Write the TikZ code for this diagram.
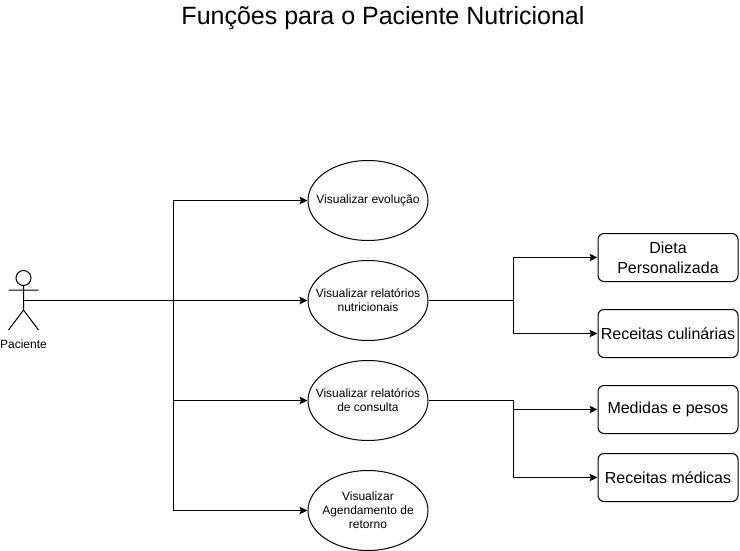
\documentclass[tikz,border=0pt]{standalone}
\usepackage{fontspec}
\setmainfont{Liberation Sans}
\usetikzlibrary{shapes.geometric,arrows.meta}
\tikzset{
  usecase/.style={draw,ellipse,minimum width=120pt,minimum height=80pt,inner sep=0pt,line width=1pt},
  uctext/.style={inner sep=0pt,align=center,font=\fontsize{12}{14}\selectfont},
  result/.style={draw,rounded corners=6pt,minimum width=140pt,minimum height=48pt,inner sep=0pt,align=center,font=\fontsize{16}{20}\selectfont,line width=1pt},
  conn/.style={line width=1pt,-{Stealth[length=8pt,width=7.5pt,inset=1.5pt]}},
  actorline/.style={line width=1pt}
}
\begin{document}
\begin{tikzpicture}[x=1pt,y=-1pt]
\useasboundingbox (0,0) rectangle (740,551);
\node[font=\fontsize{25}{29}\selectfont] (title) at (383,18.5) {Funções para o Paciente Nutricional};
% actor
\node[draw,circle,minimum size=15pt,inner sep=0pt,line width=1pt] (head) at (23.5,278) {};
\coordinate (hip) at (23.5,310);
\coordinate (armL) at (8.5,290);
\coordinate (armR) at (38.5,290);
\coordinate (legL) at (8.5,330);
\coordinate (legR) at (38.5,330);
\coordinate (actor) at (23.5,300.5);
\draw[actorline] (head.south) -- (hip) (armL) -- (armR) (hip) -- (legL) (hip) -- (legR);
\node[font=\fontsize{12}{14}\selectfont] (lab) at (23.5,344) {Paciente};
% use cases
\node[usecase] (u1) at (368,200.5) {};
\node[usecase] (u2) at (368,300.5) {};
\node[usecase] (u3) at (368,400.5) {};
\node[usecase] (u4) at (368,510.5) {};
\node[uctext] (t1) at (u1) {Visualizar evolução};
\node[uctext] (t2) at (u2) {Visualizar relatórios\\nutricionais};
\node[uctext] (t3) at (u3) {Visualizar relatórios\\de consulta};
\node[uctext] (t4) at (u4) {Visualizar\\Agendamento de\\retorno};
% results
\node[result] (r1) at (668,257.5) {Dieta\\Personalizada};
\node[result] (r2) at (668,333.5) {Receitas culinárias};
\node[result] (r3) at (668,409.5) {Medidas e pesos};
\node[result] (r4) at (668,477.5) {Receitas médicas};
\coordinate (hubA) at (173,300.5);
\coordinate (hubB) at (513,300.5);
\coordinate (hubC) at (513,400.5);
\draw[conn] (actor) -- (u2.west);
\draw[conn] (actor) -- (hubA) |- (u1.west);
\draw[conn] (actor) -- (hubA) |- (u3.west);
\draw[conn] (actor) -- (hubA) |- (u4.west);
\draw[conn] (u2.east) -- (hubB) |- (r1.west);
\draw[conn] (u2.east) -- (hubB) |- (r2.west);
\draw[conn] (u3.east) -- (hubC) |- (r3.west);
\draw[conn] (u3.east) -- (hubC) |- (r4.west);
\end{tikzpicture}
\end{document}
